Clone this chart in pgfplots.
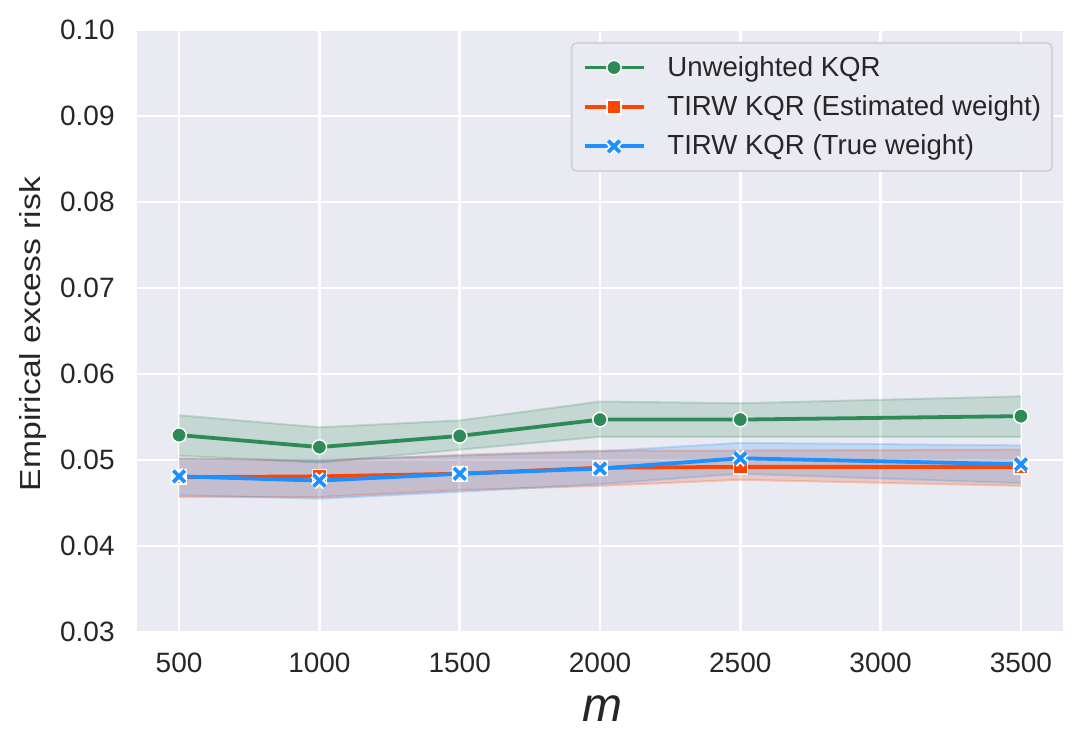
\documentclass[border=0pt]{standalone}
\usepackage{pgfplots}
\pgfplotsset{compat=1.18}
\usepgfplotslibrary{fillbetween}
\usepackage{graphicx}
\usepackage{fontspec}
\setmainfont{Liberation Sans}
\definecolor{bgc}{HTML}{EAEAF2}
\definecolor{sgreen}{HTML}{2E8B57}
\definecolor{ored}{HTML}{FF4500}
\definecolor{dblue}{HTML}{1E90FF}
\definecolor{txt}{HTML}{262626}
\definecolor{legedge}{HTML}{D2D2D8}
\pgfdeclareplotmark{Xw}{%
  \pgfsetbuttcap
  \pgfsetlinewidth{3.8pt}\pgfsetstrokecolor{white}%
  \pgfpathmoveto{\pgfqpoint{-\pgfplotmarksize}{-\pgfplotmarksize}}%
  \pgfpathlineto{\pgfqpoint{\pgfplotmarksize}{\pgfplotmarksize}}%
  \pgfpathmoveto{\pgfqpoint{-\pgfplotmarksize}{\pgfplotmarksize}}%
  \pgfpathlineto{\pgfqpoint{\pgfplotmarksize}{-\pgfplotmarksize}}%
  \pgfusepathqstroke
  \pgfsetlinewidth{1.9pt}\pgfsetstrokecolor{dblue}%
  \pgfpathmoveto{\pgfqpoint{-\pgfplotmarksize}{-\pgfplotmarksize}}%
  \pgfpathlineto{\pgfqpoint{\pgfplotmarksize}{\pgfplotmarksize}}%
  \pgfpathmoveto{\pgfqpoint{-\pgfplotmarksize}{\pgfplotmarksize}}%
  \pgfpathlineto{\pgfqpoint{\pgfplotmarksize}{-\pgfplotmarksize}}%
  \pgfusepathqstroke
}
\begin{document}
\begin{tikzpicture}
\begin{axis}[
  at={(68.5pt,58pt)}, anchor=south west,
  scale only axis, width=463pt, height=301pt,
  xmin=350, xmax=3650, ymin=0.03, ymax=0.10,
  axis background/.style={fill=bgc},
  axis line style={draw=none},
  major tick length=0pt,
  grid=major,
  major grid style={white, line width=1.25pt},
  scaled y ticks=false, scaled x ticks=false,
  xtick={500,1000,1500,2000,2500,3000,3500},
  xticklabels={500,1000,1500,2000,2500,3000,3500},
  ytick={0.03,0.04,0.05,0.06,0.07,0.08,0.09,0.10},
  yticklabels={0.03,0.04,0.05,0.06,0.07,0.08,0.09,0.10},
  ticklabel style={font=\fontsize{14}{16}\selectfont, text=txt},
  xticklabel style={anchor=base, yshift=-20.5pt},
  yticklabel style={anchor=east, inner sep=0pt, xshift=-11pt},
  legend cell align=left,
  legend image code/.code={\draw[mark repeat=2,mark phase=2,#1] plot coordinates {(0pt,0pt) (14.75pt,0pt) (29.5pt,0pt)};},
  legend style={at={(1,1)}, anchor=north east, xshift=-5pt, yshift=-6pt,
    fill=bgc, draw=legedge, rounded corners=2.5pt, line width=0.9pt,
    inner xsep=5.5pt, inner ysep=6.6pt, row sep=8.2pt, column sep=11pt,
    font=\fontsize{13.8}{16}\selectfont, text=txt,
    nodes={inner sep=0pt}},
]
% ---- bands
\addplot[name path=gU, sgreen, draw opacity=0.22, line width=1pt, forget plot] coordinates {(500,0.0552) (1000,0.0538) (1500,0.0546) (2000,0.0568) (2500,0.0566) (3500,0.0574)};
\addplot[name path=gL, sgreen, draw opacity=0.22, line width=1pt, forget plot] coordinates {(500,0.0505) (1000,0.0497) (1500,0.0512) (2000,0.0527) (2500,0.0527) (3500,0.0527)};
\addplot[sgreen, fill opacity=0.2, forget plot] fill between[of=gU and gL];
\addplot[name path=oU, ored, draw opacity=0.22, line width=1pt, forget plot] coordinates {(500,0.0502) (1000,0.0499) (1500,0.0506) (2000,0.0511) (2500,0.0511) (3500,0.0512)};
\addplot[name path=oL, ored, draw opacity=0.22, line width=1pt, forget plot] coordinates {(500,0.0457) (1000,0.0457) (1500,0.0465) (2000,0.0470) (2500,0.0477) (3500,0.0470)};
\addplot[ored, fill opacity=0.2, forget plot] fill between[of=oU and oL];
\addplot[name path=bU, dblue, draw opacity=0.22, line width=1pt, forget plot] coordinates {(500,0.0501) (1000,0.0500) (1500,0.0505) (2000,0.0510) (2500,0.0520) (3500,0.0517)};
\addplot[name path=bL, dblue, draw opacity=0.22, line width=1pt, forget plot] coordinates {(500,0.0459) (1000,0.0455) (1500,0.0463) (2000,0.0472) (2500,0.0484) (3500,0.0473)};
\addplot[dblue, fill opacity=0.2, forget plot] fill between[of=bU and bL];
% ---- means
\addplot[sgreen, line width=1.9pt, mark=*, mark size=3.6pt, mark options={fill=sgreen, draw=white, line width=0.7pt}] coordinates {(500,0.0529) (1000,0.0515) (1500,0.0528) (2000,0.0547) (2500,0.0547) (3500,0.0551)};
\addlegendentry{Unweighted KQR}
\addplot[ored, line width=1.9pt, mark=square*, mark size=3.5pt, mark options={fill=ored, draw=white, line width=0.8pt}] coordinates {(500,0.0480) (1000,0.0481) (1500,0.0484) (2000,0.0491) (2500,0.0492) (3500,0.0492)};
\addlegendentry{TIRW KQR (Estimated weight)}
\addplot[dblue, line width=1.9pt, mark=Xw, mark size=2.9pt] coordinates {(500,0.0481) (1000,0.0476) (1500,0.0484) (2000,0.0490) (2500,0.0502) (3500,0.0495)};
\addlegendentry{TIRW KQR (True weight)}
\end{axis}
\node[rotate=90, anchor=base, inner sep=0pt, text=txt, font=\fontsize{14.5}{16}\selectfont] at (20pt,207pt) {\scalebox{1.16}[1]{Empirical excess risk}};
\node[anchor=base, inner sep=0pt, text=txt, font=\fontsize{24}{24}\selectfont\itshape] at (301pt,13pt) {m};
\path (0,0) rectangle (542.5pt,374pt);
\end{tikzpicture}
\end{document}
